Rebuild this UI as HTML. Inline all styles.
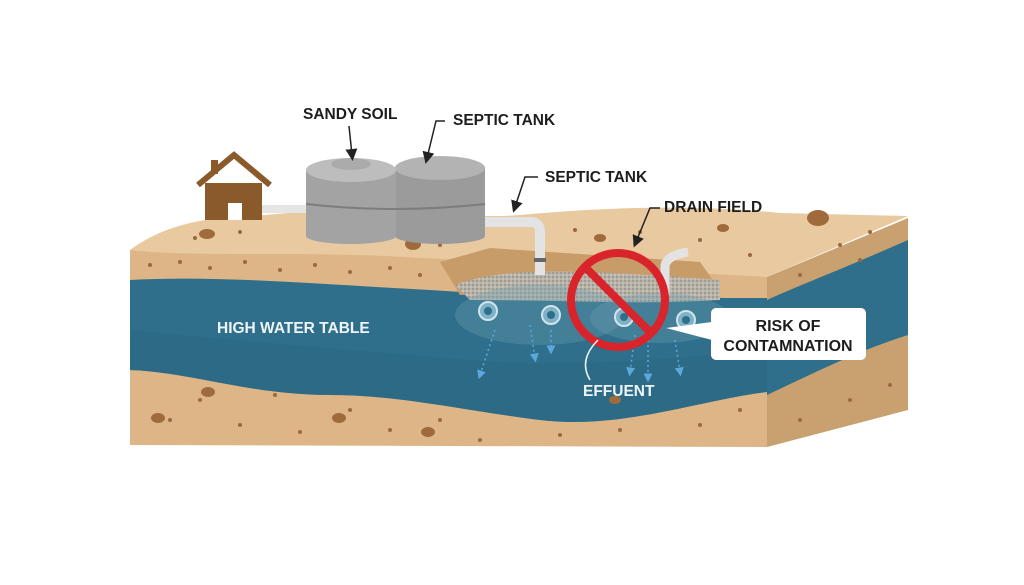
<!DOCTYPE html>
<html><head><style>html,body{margin:0;padding:0;background:#fff}svg{display:block}</style></head>
<body>
<svg width="1024" height="585" viewBox="0 0 1024 585" xmlns="http://www.w3.org/2000/svg" font-family="Liberation Sans, sans-serif">
<defs>
<marker id="ah" markerWidth="8" markerHeight="8" refX="4" refY="4" orient="auto"><path d="M0,0 L8,4 L0,8 Z" fill="#222"/></marker>
<marker id="bh" markerWidth="6" markerHeight="6" refX="3" refY="3" orient="auto"><path d="M0,0 L6,3 L0,6 Z" fill="#5aa8dc"/></marker>
<pattern id="grav" width="4" height="4" patternUnits="userSpaceOnUse"><rect width="4" height="4" fill="#b7b2a8"/><circle cx="1" cy="1" r="0.9" fill="#8e8a84"/><circle cx="3" cy="3" r="0.7" fill="#dcd8d0"/></pattern>
</defs>
<rect width="1024" height="585" fill="#fff"/>
<!-- right face -->
<path d="M767,277 L908,218 L908,410 L767,447 Z" fill="#c9a170"/>
<path d="M767,300 C800,285 840,270 908,240 L908,335 C860,350 820,370 767,395 Z" fill="#2f6f8b"/>
<!-- top surface -->
<path d="M130,250 C150,235 175,225 205,220 L300,212 C380,205 460,220 520,215 C620,206 700,205 780,213 L908,216 L767,277 L130,256 Z" fill="#e9c9a0"/>
<!-- front face -->
<path d="M130,250 C200,258 300,250 420,258 C520,262 600,268 767,277 L767,447 L130,445 Z" fill="#ddb586"/>
<!-- water band -->
<path d="M130,280 C220,275 330,285 430,290 C520,296 600,298 767,298 L767,392 C700,400 620,430 540,420 C460,410 400,395 330,395 C250,395 190,372 130,370 Z" fill="#2f6f8b"/>
<path d="M130,330 C230,340 350,350 470,360 C560,368 660,360 767,350 L767,392 C700,400 620,430 540,420 C460,410 400,395 330,395 C250,395 190,372 130,370 Z" fill="#2b6782" opacity="0.6"/>
<!-- trench -->
<path d="M440,262 L490,248 L700,262 L720,290 L460,295 Z" fill="#c89c68"/>
<path d="M455,285 C500,268 560,268 720,280 L720,300 C640,305 560,300 470,300 Z" fill="url(#grav)"/>
<ellipse cx="540" cy="315" rx="85" ry="30" fill="#6c9fb2" opacity="0.35"/>
<ellipse cx="660" cy="318" rx="70" ry="25" fill="#6c9fb2" opacity="0.35"/>
<!-- pipes in water -->
<g fill="#7fb2c5" stroke="#cfe4ec" stroke-width="2">
<circle cx="488" cy="311" r="9"/><circle cx="551" cy="315" r="9"/><circle cx="624" cy="317" r="9"/><circle cx="686" cy="320" r="9"/>
</g>
<g fill="#2f6f8b"><circle cx="488" cy="311" r="4"/><circle cx="551" cy="315" r="4"/><circle cx="624" cy="317" r="4"/><circle cx="686" cy="320" r="4"/></g>
<!-- effluent dotted arrows -->
<g stroke="#5aa8dc" stroke-width="1.5" stroke-dasharray="2,3" fill="none" marker-end="url(#bh)">
<line x1="495" y1="330" x2="480" y2="375"/><line x1="530" y1="325" x2="535" y2="358"/><line x1="551" y1="330" x2="551" y2="350"/>
<line x1="635" y1="335" x2="630" y2="372"/><line x1="648" y1="330" x2="648" y2="378"/><line x1="675" y1="340" x2="680" y2="372"/>
</g>
<!-- sand dots -->
<g fill="#9a6a3e">
<circle cx="150" cy="265" r="2"/><circle cx="180" cy="262" r="2"/><circle cx="210" cy="268" r="2"/><circle cx="245" cy="262" r="2"/><circle cx="280" cy="270" r="2"/><circle cx="315" cy="265" r="2"/><circle cx="350" cy="272" r="2"/><circle cx="390" cy="268" r="2"/><circle cx="420" cy="275" r="2"/><circle cx="195" cy="238" r="2"/><circle cx="240" cy="232" r="2"/><circle cx="440" cy="245" r="2"/><circle cx="575" cy="230" r="2"/><circle cx="640" cy="232" r="2"/><circle cx="700" cy="240" r="2"/><circle cx="750" cy="255" r="2"/><circle cx="840" cy="245" r="2"/><circle cx="870" cy="232" r="2"/>
<circle cx="170" cy="420" r="2"/><circle cx="200" cy="400" r="2"/><circle cx="240" cy="425" r="2"/><circle cx="275" cy="395" r="2"/><circle cx="300" cy="432" r="2"/><circle cx="350" cy="410" r="2"/><circle cx="390" cy="430" r="2"/><circle cx="440" cy="420" r="2"/><circle cx="480" cy="440" r="2"/><circle cx="560" cy="435" r="2"/><circle cx="620" cy="430" r="2"/><circle cx="700" cy="425" r="2"/><circle cx="740" cy="410" r="2"/><circle cx="800" cy="420" r="2"/><circle cx="850" cy="400" r="2"/><circle cx="890" cy="385" r="2"/><circle cx="800" cy="275" r="2"/><circle cx="860" cy="260" r="2"/>
</g>
<g fill="#a06b3c">
<ellipse cx="207" cy="234" rx="8" ry="5"/><ellipse cx="413" cy="244" rx="8" ry="6"/><ellipse cx="818" cy="218" rx="11" ry="8"/><ellipse cx="600" cy="238" rx="6" ry="4"/><ellipse cx="723" cy="228" rx="6" ry="4"/>
<ellipse cx="158" cy="418" rx="7" ry="5"/><ellipse cx="208" cy="392" rx="7" ry="5"/><ellipse cx="339" cy="418" rx="7" ry="5"/><ellipse cx="428" cy="432" rx="7" ry="5"/><ellipse cx="615" cy="400" rx="6" ry="4"/>
</g>
<!-- house -->
<path d="M198,185 L234,155 L270,185" fill="none" stroke="#8b5a2b" stroke-width="6"/>
<rect x="205" y="183" width="57" height="37" fill="#8b5a2b"/>
<rect x="211" y="160" width="7" height="14" fill="#8b5a2b"/>
<rect x="228" y="203" width="14" height="17" fill="#fff"/>
<rect x="262" y="205" width="45" height="8" fill="#e5e5e5"/>
<!-- tanks -->
<rect x="395" y="168" width="90" height="68" fill="#9b9b9b"/>
<ellipse cx="440" cy="236" rx="45" ry="8" fill="#9b9b9b"/>
<ellipse cx="440" cy="168" rx="45" ry="12" fill="#b3b3b3"/>
<rect x="306" y="170" width="90" height="66" fill="#a3a3a3"/>
<ellipse cx="351" cy="236" rx="45" ry="8" fill="#a3a3a3"/>
<ellipse cx="351" cy="170" rx="45" ry="12" fill="#bdbdbd"/>
<ellipse cx="351" cy="164" rx="20" ry="6" fill="#ababab"/>
<path d="M306,204 Q395,214 485,204" fill="none" stroke="#7d7d7d" stroke-width="2"/>
<!-- outlet pipe -->
<path d="M485,222 L530,222 Q540,222 540,232 L540,275" fill="none" stroke="#e3e3e3" stroke-width="10"/>
<rect x="534" y="258" width="12" height="4" fill="#666"/>
<path d="M665,295 L665,265 Q668,255 688,252" fill="none" stroke="#e3e3e3" stroke-width="9"/>
<!-- no sign -->
<circle cx="618" cy="300" r="47" fill="none" stroke="#d8242a" stroke-width="8"/>
<line x1="585" y1="267" x2="651" y2="333" stroke="#d8242a" stroke-width="8"/>
<!-- labels -->
<g font-size="15.5" font-weight="bold" fill="#1d1d1d">
<text x="303" y="119">SANDY SOIL</text>
<text x="453" y="125">SEPTIC TANK</text>
<text x="545" y="182">SEPTIC TANK</text>
<text x="664" y="212">DRAIN FIELD</text>
</g>
<g stroke="#222" stroke-width="1.5" fill="none" marker-end="url(#ah)">
<line x1="349" y1="126" x2="352" y2="155"/>
<path d="M445,121 L436,121 L427,158"/>
<path d="M538,177 L525,177 L515,207"/>
<path d="M660,208 L650,208 L636,242"/>
</g>
<text x="217" y="333" font-size="15.5" font-weight="bold" fill="#eef5f8">HIGH WATER TABLE</text>
<text x="583" y="396" font-size="15.5" font-weight="bold" fill="#eef5f8">EFFUENT</text>
<path d="M590,380 Q578,360 598,340" fill="none" stroke="#eef5f8" stroke-width="1.5"/>
<path d="M666,328 L712,322 L712,340 Z" fill="#fff"/>
<rect x="711" y="308" width="155" height="52" rx="5" fill="#fff"/>
<text x="788" y="331" font-size="16" font-weight="bold" fill="#1d1d1d" text-anchor="middle">RISK OF</text>
<text x="788" y="351" font-size="16" font-weight="bold" fill="#1d1d1d" text-anchor="middle">CONTAMNATION</text>
</svg>
</body></html>
